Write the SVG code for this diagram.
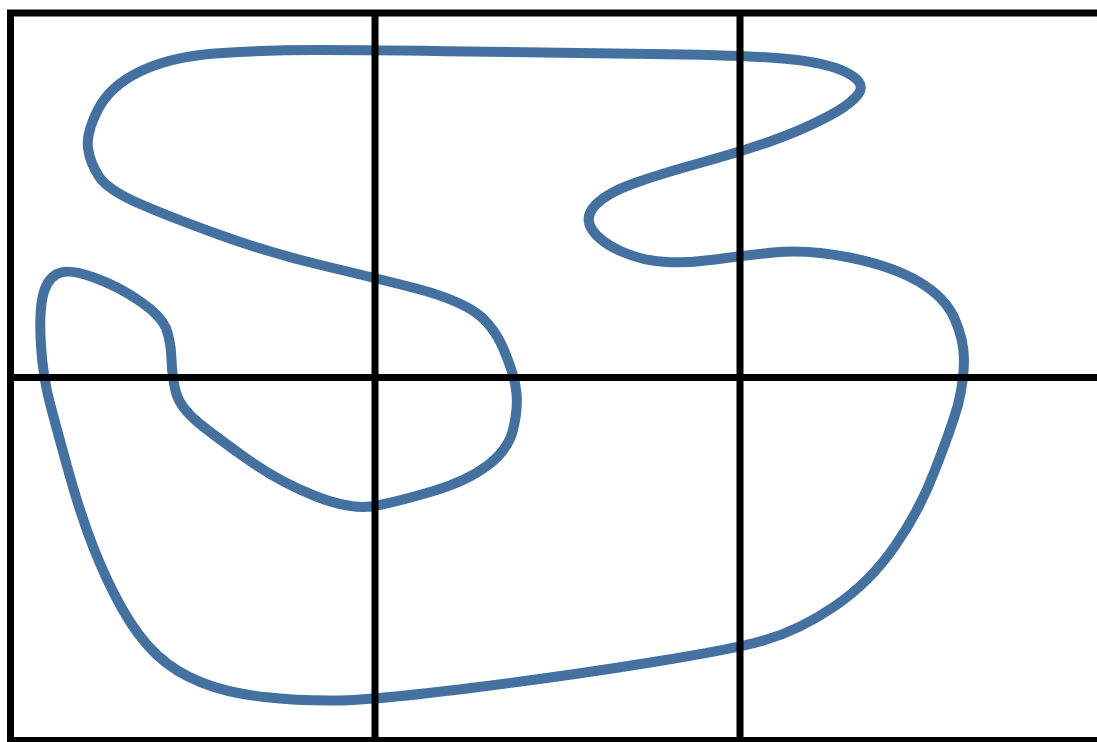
<svg xmlns="http://www.w3.org/2000/svg" width="1097" height="742" viewBox="0 0 1097 742">
<style>
.curve{fill:none;stroke:#44719f;stroke-width:10;stroke-linejoin:round}
.grid{stroke:#000;stroke-width:7;fill:none}
</style>
<rect width="1097" height="742" fill="#fff"/>
<g id="curve">
<path class="curve" d="M88,148 Q86,133 98,109.5 Q110,86 140,71.5 Q170,57 215,53.5 Q260,50 317.5,50 Q375,50 467.5,51.5 Q560,53 650,54 Q740,55 782.5,58.5 Q825,62 845.5,72 Q866,82 859,93 Q852,104 826,117.5 Q800,131 770,141.5 Q740,152 700,163 Q660,174 633.5,183.5 Q607,193 595.5,205 Q584,217 592,229.5 Q600,242 621.5,251.5 Q643,261 666.5,262 Q690,263 715,259.5 Q740,256 773.5,252.5 Q807,249 849.5,257.5 Q892,266 918.5,281.5 Q945,297 954.5,318.5 Q964,340 964,360 Q964,380 958,405 Q950,432 935,470 Q920,510 895,546 Q870,582 835,606 Q800,630 765,640 Q740,648 653.5,662 Q567,676 471,688 Q375,700 337.5,700.5 Q300,701 264,697 Q228,693 201.5,682.5 Q175,672 156.5,654.5 Q138,637 122,608.5 Q106,580 93,546.5 Q80,513 68.5,471.5 Q57,430 50,403.5 Q43,377 41,346 Q39,315 42.5,297.5 Q46,280 57,274 Q68,268 94,277.5 Q120,287 141,302 Q160,315 166,328 Q171,342 171.5,359.5 Q172,377 176,392.5 Q180,408 200,424 Q220,440 250,461 Q280,482 315,496 Q350,510 375,506 Q400,501 433.5,491 Q467,481 487.5,465.5 Q508,450 513,430 Q518,410 516.5,393 Q515,376 503.5,349 Q492,322 471,309.5 Q450,297 412.5,287.5 Q375,278 322.5,265.5 Q270,253 220,235 Q170,217 139,203.5 Q108,190 99,176.5 Q90,163 88,148 Z"/>
</g>
<g id="grid">
<path class="grid" d="M10.5,13 V742 M7,13 H1097 M7,740.5 H1097 M375,13 V742 M740,13 V742 M10,377.5 H1097"/>
</g>
</svg>
